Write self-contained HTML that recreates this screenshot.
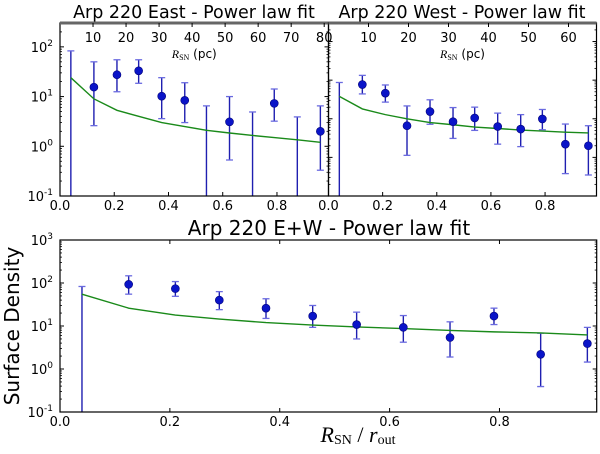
<!DOCTYPE html>
<html><head><meta charset="utf-8"><style>
html,body{margin:0;background:#fff;overflow:hidden;width:600px;height:454px;}
svg{display:block;font-family:"DejaVu Sans","Liberation Sans",sans-serif;}
</style></head><body>
<svg id="c" width="600" height="454" viewBox="0 0 600 454" xmlns="http://www.w3.org/2000/svg"></svg>
<script>
const xs = [0.04,0.125,0.21,0.29,0.375,0.46,0.54,0.625,0.71,0.79,0.875,0.96];
// East
const eastVal = [null,15.5,27.5,33,10.2,8.4,null,3.1,null,7.3,null,2.0];
const eastHi  = [83,50,55,55,24,19,6.5,10,4.9,14.2,3.9,6.5];
const eastLo  = [0.001,2.6,12.5,18.5,3.6,3.0,0.001,0.53,0.001,3.2,0.001,0.33];
const eastFit = [24,9.0,5.3,4.0,3.0,2.5,2.1,1.85,1.65,1.5,1.35,1.2];
// West
const westVal = [null,77,46,6.6,15.4,8.4,10.5,6.3,5.4,9.9,2.2,2.0];
const westHi  = [87,133,75,21.5,31,19.5,20,14,12.8,17.4,7.3,6.6];
const westLo  = [0.001,44,27,1.13,7.2,3.1,5.0,2.2,1.9,5.2,0.38,0.35];
const westFit = [38,18,12.8,10,8,7,6.1,5.6,5.1,4.8,4.5,4.3];
// E+W
const ewVal = [null,93,74,40,26,17,10.8,9.3,5.4,17,2.2,3.9];
const ewHi  = [83,147,108,63,43,30,21,17.5,12.5,26,6.8,9.3];
const ewLo  = [0.001,55,49,24,15,9.3,5.0,4.2,1.9,10.8,0.39,1.45];
const ewFit = [55,26,18,14.5,12,10.5,9.5,8.7,7.9,7.3,6.9,6.2];
const xTicks = [0,0.2,0.4,0.6,0.8];
const eastPcTicks = [10,20,30,40,50,60,70,80];
const westPcTicks = [10,20,30,40,50,60];

const svg = document.getElementById('c');
const NS = 'http://www.w3.org/2000/svg';
function mk(tag, attrs, parent){const e=document.createElementNS(NS,tag);for(const k in attrs)e.setAttribute(k,attrs[k]);(parent||svg).appendChild(e);return e;}

function panel(name, L, R, T, B, xmax, logMin, logMax, val, hi, lo, fit, showY, pcTicks, pcMax){
  const g = mk('g',{});
  
  
  const X = v => L + v/xmax*(R-L);
  const Y = v => B - (Math.log10(v)-logMin)/(logMax-logMin)*(B-T);
  const clip = mk('clipPath',{id:name+'-clip'},g);
  mk('rect',{x:L,y:T,width:R-L,height:B-T},clip);
  const plot = mk('g',{'clip-path':'url(#'+name+'-clip)'},g);
  for(let i=0;i<xs.length;i++){
    const x=X(xs[i]), yh=Y(hi[i]), yl=Y(lo[i]);
    const eb = mk('line',{x1:x,x2:x,y1:yh,y2:yl,stroke:'#1f1fb0','stroke-width':1.4},plot);
    
    
    mk('line',{x1:x-3.5,x2:x+3.5,y1:yh,y2:yh,stroke:'#6a6ae0','stroke-width':1.3},plot);
    if(lo[i]>Math.pow(10,logMin)) mk('line',{x1:x-3.5,x2:x+3.5,y1:yl,y2:yl,stroke:'#6a6ae0','stroke-width':1.3},plot);
  }
  const pts = xs.map((x,i)=>X(x)+','+Y(fit[i])).join(' ');
  const fl = mk('polyline',{points:pts,fill:'none',stroke:'#1a8a1a','stroke-width':1.4},plot);
  
  
  for(let i=0;i<xs.length;i++){
    if(val[i]==null) continue;
    const c = mk('circle',{cx:X(xs[i]),cy:Y(val[i]),r:4,fill:'#0a14c8',stroke:'#00007a','stroke-width':0.6},plot);
    
    
  }
  mk('rect',{x:L,y:T,width:R-L,height:B-T,fill:'none',stroke:'#000','stroke-width':1.2},g);
  xTicks.forEach(t=>{
    const x=X(t);
    mk('line',{x1:x,x2:x,y1:B,y2:B-4,stroke:'#000'},g);
    if(!pcTicks) mk('line',{x1:x,x2:x,y1:T,y2:T+4,stroke:'#000'},g);
    const tx=mk('text',{x:x,y:B+14,'font-size':13,'text-anchor':'middle'},g);
    tx.textContent=t.toFixed(1);
    
    
  });
  for(let d=Math.ceil(logMin); d<=Math.floor(logMax); d++){
    const y=Y(Math.pow(10,d));
    mk('line',{x1:L,x2:L+4,y1:y,y2:y,stroke:'#000'},g);
    mk('line',{x1:R,x2:R-4,y1:y,y2:y,stroke:'#000'},g);
    for(let m=2;m<10;m++){const v=m*Math.pow(10,d); if(Math.log10(v)>logMax) break; const ym=Y(v);
      mk('line',{x1:L,x2:L+2,y1:ym,y2:ym,stroke:'#000','stroke-width':0.8},g);
      mk('line',{x1:R,x2:R-2,y1:ym,y2:ym,stroke:'#000','stroke-width':0.8},g);}
    if(showY){
      const tx=mk('text',{x:L-7,y:y+5,'font-size':13,'text-anchor':'end'},g);
      
      
      tx.textContent='10';
      const s=mk('tspan',{dy:-6,'font-size':9},tx); s.textContent=String(d);
    }
  }
  if(pcTicks){
    mk('line',{x1:L,x2:R,y1:T,y2:T,stroke:'#666','stroke-width':3},g);
    pcTicks.forEach(p=>{
      const x=L + p/pcMax*(R-L);
      mk('line',{x1:x,x2:x,y1:T,y2:T+4,stroke:'#000'},g);
      const tx=mk('text',{x:x,y:T+19,'font-size':13,'text-anchor':'middle'},g);
      tx.textContent=String(p);
      
      
    });
    const lab=mk('text',{x:(L+R)/2,y:T+35,'font-size':12,'text-anchor':'middle'},g);
    
    
    const a=mk('tspan',{'font-family':'Liberation Serif, serif','font-style':'italic'},lab); a.textContent='R';
    const b=mk('tspan',{'font-family':'Liberation Serif, serif','font-size':8,dy:2},lab); b.textContent='SN';
    const c=mk('tspan',{dy:-2},lab); c.textContent=' (pc)';
  }
}
panel('east',60,328.5,23,196,0.99,-1,2.48,eastVal,eastHi,eastLo,eastFit,true,eastPcTicks,81.3);
panel('west',328.5,596.5,23,196,0.99,-1,3.48,westVal,westHi,westLo,westFit,false,westPcTicks,67);
panel('combined',60,596.7,240,412,0.977,-1,3,ewVal,ewHi,ewLo,ewFit,true,null,0);

function text(x,y,s,size,name,extra){const t=mk('text',Object.assign({x:x,y:y,'font-size':size,'text-anchor':'middle'},extra||{}));t.textContent=s;return t;}
text(194,18,'Arp 220 East - Power law fit',17.5,'east-title');
text(462,18,'Arp 220 West - Power law fit',17.5,'west-title');
text(329,235,'Arp 220 E+W - Power law fit',20,'combined-title');
text(19,326,'Surface Density',20,'y-axis-title',{transform:'rotate(-90 19 326)'});
const xl=mk('text',{x:358,y:442,'font-size':22,'text-anchor':'middle','font-family':'Liberation Serif, serif'});


const t1=mk('tspan',{'font-style':'italic'},xl);t1.textContent='R';
const t2=mk('tspan',{'font-size':14,dy:2},xl);t2.textContent='SN';
const t3=mk('tspan',{dy:-2},xl);t3.textContent=' / ';
const t4=mk('tspan',{'font-style':'italic'},xl);t4.textContent='r';
const t5=mk('tspan',{'font-size':14,dy:2},xl);t5.textContent='out';
</script>
</body></html>
